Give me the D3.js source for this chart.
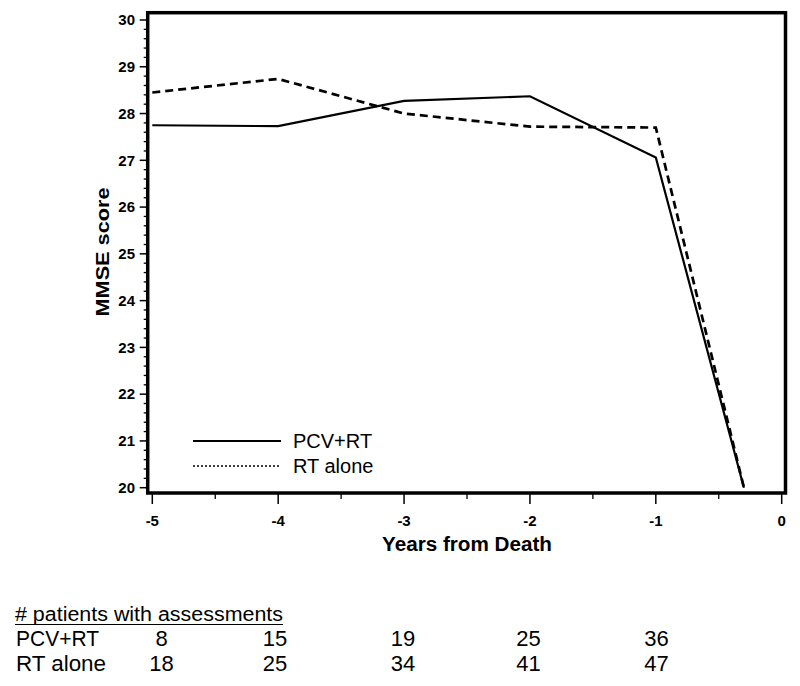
<!DOCTYPE html>
<html>
<head>
<meta charset="utf-8">
<script src="https://cdn.jsdelivr.net/npm/d3@7"></script>
<style>
  html, body { margin: 0; padding: 0; background: #fff; }
  svg { display: block; font-family: "Liberation Sans", Arial, sans-serif; }
</style>
</head>
<body>
<svg id="chart" width="800" height="686"></svg>
<script>
// ---- data ----
const years = [-5, -4, -3, -2, -1, -0.3];
const pcvRT = [27.75, 27.73, 28.27, 28.37, 27.06, 20.0];
const rtAlone = [28.45, 28.74, 28.00, 27.72, 27.70, 20.0];
const seriesNames = ["PCV+RT", "RT alone"];
const xTicks = [-5, -4, -3, -2, -1, 0];
const yTicks = [20, 21, 22, 23, 24, 25, 26, 27, 28, 29, 30];
const tableTitle = "# patients with assessments";
const tableRows = ["PCV+RT", "RT alone"];
const pcvCounts = [8, 15, 19, 25, 36];
const rtCounts = [18, 25, 34, 41, 47];

// ---- layout ----
const svg = d3.select("#chart");
const frame = { left: 147.7, right: 785.5, top: 12.7, bottom: 493 };
const x = d3.scaleLinear().domain([-5, 0]).range([152.3, 781.7]);
const y = d3.scaleLinear().domain([20, 30]).range([487.7, 20]);

// y axis minor ticks
const yMinor = d3.range(20, 30.001, 0.2).filter(v => Math.abs(v - Math.round(v)) > 1e-6);
svg.append("g").selectAll("line").data(yMinor).join("line")
  .attr("x1", frame.left - 4).attr("x2", frame.left)
  .attr("y1", d => y(d)).attr("y2", d => y(d))
  .attr("stroke", "#000").attr("stroke-width", 1.3);
// y axis major ticks
const yAxisG = svg.append("g");
yAxisG.selectAll("line").data(yTicks).join("line")
  .attr("x1", frame.left - 8).attr("x2", frame.left)
  .attr("y1", d => y(d)).attr("y2", d => y(d))
  .attr("stroke", "#000").attr("stroke-width", 1.5);
yAxisG.selectAll("text").data(yTicks).join("text")
  .attr("x", 135).attr("y", d => y(d) + 5.3)
  .attr("text-anchor", "end")
  .attr("font-size", 15).attr("font-weight", "bold")
  .text(d => d);

// x axis minor ticks
const xMinor = d3.range(-4.5, 0, 1);
svg.append("g").selectAll("line").data(xMinor).join("line")
  .attr("x1", d => x(d)).attr("x2", d => x(d))
  .attr("y1", frame.bottom).attr("y2", frame.bottom + 6)
  .attr("stroke", "#000").attr("stroke-width", 1.3);
const xAxisG = svg.append("g");
xAxisG.selectAll("line").data(xTicks).join("line")
  .attr("x1", d => x(d)).attr("x2", d => x(d))
  .attr("y1", frame.bottom).attr("y2", frame.bottom + 11)
  .attr("stroke", "#000").attr("stroke-width", 1.5);
xAxisG.selectAll("text").data(xTicks).join("text")
  .attr("x", d => x(d)).attr("y", 525.5)
  .attr("text-anchor", "middle")
  .attr("font-size", 15).attr("font-weight", "bold")
  .text(d => d);

// axis titles
svg.append("text")
  .attr("x", 467).attr("y", 551)
  .attr("text-anchor", "middle")
  .attr("font-size", 20).attr("font-weight", "bold")
  .attr("textLength", 170).attr("lengthAdjust", "spacingAndGlyphs")
  .text("Years from Death");
svg.append("text")
  .attr("transform", "translate(109,252) rotate(-90)")
  .attr("text-anchor", "middle")
  .attr("font-size", 19).attr("font-weight", "bold")
  .attr("textLength", 129).attr("lengthAdjust", "spacingAndGlyphs")
  .text("MMSE score");

// data lines
const line = d3.line().x(d => x(d[0])).y(d => y(d[1]));
svg.append("path")
  .datum(years.map((t, i) => [t, rtAlone[i]]))
  .attr("d", line).attr("fill", "none")
  .attr("stroke", "#000").attr("stroke-width", 2.7)
  .attr("stroke-dasharray", "8,5");
svg.append("path")
  .datum(years.map((t, i) => [t, pcvRT[i]]))
  .attr("d", line).attr("fill", "none")
  .attr("stroke", "#000").attr("stroke-width", 2.2);

// frame
svg.append("rect")
  .attr("x", frame.left).attr("y", frame.top)
  .attr("width", frame.right - frame.left).attr("height", frame.bottom - frame.top)
  .attr("fill", "none").attr("stroke", "#000").attr("stroke-width", 3.5);

// legend
const legend = svg.append("g");
const legY = [441, 466];
const legDash = [null, "2,2"];
seriesNames.forEach((name, i) => {
  legend.append("line")
    .attr("x1", 193).attr("x2", 281)
    .attr("y1", legY[i]).attr("y2", legY[i])
    .attr("stroke", "#000")
    .attr("stroke-width", i === 0 ? 2.2 : 1.6)
    .attr("stroke-dasharray", legDash[i]);
  legend.append("text")
    .attr("x", 293).attr("y", legY[i] + 7)
    .attr("font-size", 20)
    .text(name);
});

// table
const table = svg.append("g");
table.append("text")
  .attr("x", 15).attr("y", 621)
  .attr("font-size", 20)
  .attr("textLength", 268).attr("lengthAdjust", "spacingAndGlyphs")
  .text(tableTitle);
table.append("line")
  .attr("x1", 15).attr("x2", 283).attr("y1", 624.5).attr("y2", 624.5)
  .attr("stroke", "#000").attr("stroke-width", 1.2);
const colX = [161.5, 275, 403, 528.5, 656.5];
const rowY = [646, 671];
[pcvCounts, rtCounts].forEach((counts, r) => {
  table.append("text")
    .attr("x", 16).attr("y", rowY[r])
    .attr("font-size", 22)
    .attr("textLength", r === 0 ? 83 : 90).attr("lengthAdjust", "spacingAndGlyphs")
    .text(tableRows[r]);
  table.selectAll(null).data(counts).join("text")
    .attr("x", (d, i) => colX[i]).attr("y", rowY[r])
    .attr("text-anchor", "middle")
    .attr("font-size", 22)
    .text(d => d);
});
</script>
</body>
</html>
